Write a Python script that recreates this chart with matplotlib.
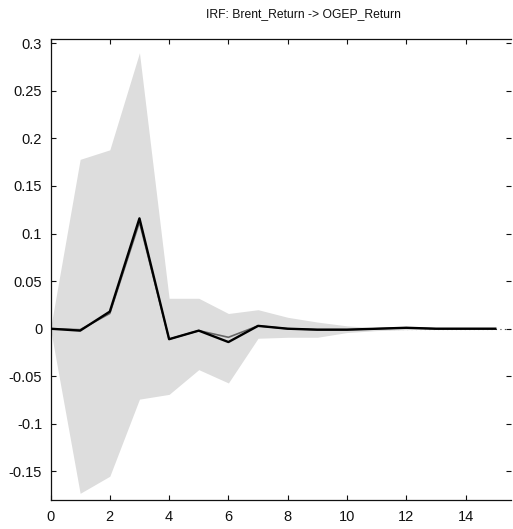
import numpy as np
import matplotlib
matplotlib.use("Agg")
import matplotlib.pyplot as plt
from matplotlib.ticker import FuncFormatter

plt.rcParams['font.family'] = ['Liberation Sans', 'DejaVu Sans']

# horizonte (periodos) y respuesta estimada
periods = [0, 1, 2, 3, 4, 5, 6, 7, 8, 9, 10, 11, 12, 13, 14, 15]
irf = [0.0, -0.002, 0.018, 0.116, -0.011, -0.002, -0.014, 0.003,
       0.0, -0.001, -0.001, 0.0, 0.001, 0.0, 0.0, 0.0]
# mediana bootstrap (línea gris)
irf_median = [0.0, -0.001, 0.016, 0.112, -0.011, -0.002, -0.009, 0.003,
              0.0, -0.001, -0.001, 0.0, 0.001, 0.0, 0.0, 0.0]
# banda de confianza
band_upper = [0.0, 0.178, 0.188, 0.290, 0.032, 0.032, 0.016, 0.020,
              0.012, 0.007, 0.003, 0.001, 0.001, 0.0005, 0.0005, 0.0005]
band_lower = [0.0, -0.173, -0.155, -0.074, -0.069, -0.043, -0.057, -0.010,
              -0.009, -0.009, -0.004, -0.002, -0.001, -0.0005, -0.0005, -0.0005]

title = "IRF: Brent_Return -> OGEP_Return"
xticks = [0, 2, 4, 6, 8, 10, 12, 14]
yticks = [-0.15, -0.1, -0.05, 0, 0.05, 0.1, 0.15, 0.2, 0.25, 0.3]

W, H = 513, 529
fig = plt.figure(figsize=(W / 100, H / 100), dpi=100)
ax = fig.add_axes([50.5 / W, (H - 500) / H, (511 - 50.5) / W, (500 - 38.5) / H])

ax.axhline(0, color='#444444', lw=0.8, ls=(0, (1, 3)), zorder=1)
ax.fill_between(periods, band_lower, band_upper, color='#dddddd', lw=0, zorder=2)
ax.plot(periods, irf_median, color='#666666', lw=1.2, zorder=3)
ax.plot(periods, irf, color='black', lw=1.7, zorder=4)

ax.set_xlim(0, 15.53)
ax.set_ylim(-0.18, 0.305)
ax.set_xticks(xticks)
ax.set_yticks(yticks)
ax.yaxis.set_major_formatter(FuncFormatter(lambda v, p: f"{v:g}"))

ax.tick_params(direction='in', length=3.5, width=0.8, labelsize=10.5,
               top=True, right=True, colors='#111111')
ax.tick_params(axis='x', pad=7)
ax.tick_params(axis='y', pad=6)
ax.spines['right'].set_visible(False)
for s in ['left', 'bottom', 'top']:
    ax.spines[s].set_linewidth(0.9)
    ax.spines[s].set_color('#111111')

fig.text(303 / W, 1 - 14 / H, title, ha='center', va='center', fontsize=8.7,
         color='#111111')

fig.savefig("out.png", dpi=100)
